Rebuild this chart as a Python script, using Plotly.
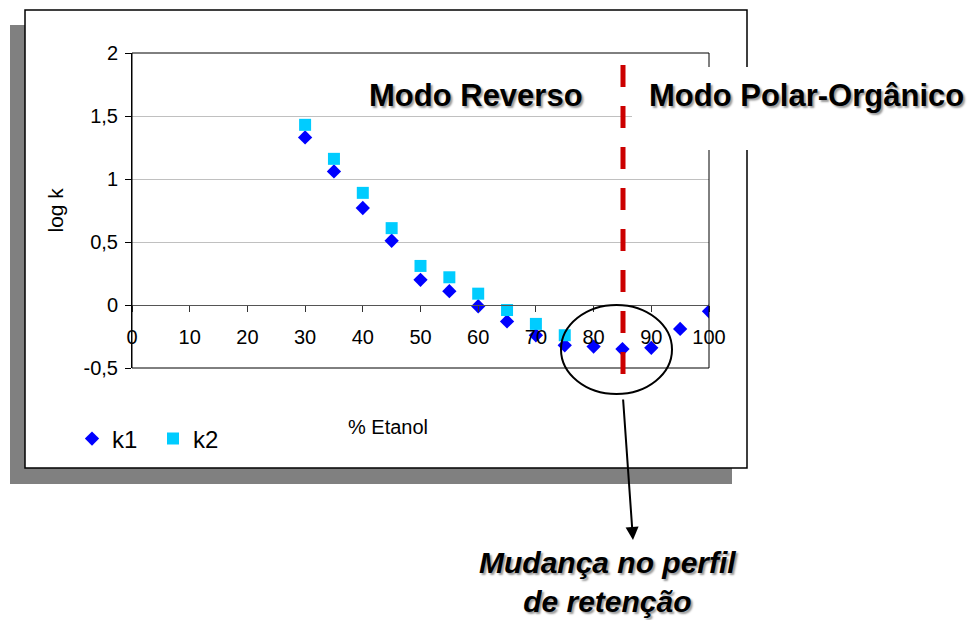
import plotly.graph_objects as go

# ---------------- data ----------------
etanol_k1 = [30, 35, 40, 45, 50, 55, 60, 65, 70, 75, 80, 85, 90, 95, 100]
logk_k1 = [1.33, 1.06, 0.77, 0.51, 0.20, 0.11, -0.01, -0.13, -0.24, -0.32, -0.33, -0.35, -0.34, -0.19, -0.05]
etanol_k2 = [30, 35, 40, 45, 50, 55, 60, 65, 70, 75]
logk_k2 = [1.43, 1.16, 0.89, 0.61, 0.31, 0.22, 0.09, -0.04, -0.15, -0.24]

y_tickvals = [-0.5, 0, 0.5, 1, 1.5, 2]
y_ticktext = ["-0,5", "0", "0,5", "1", "1,5", "2"]
x_tickvals = [0, 10, 20, 30, 40, 50, 60, 70, 80, 90, 100]
x_ticktext = ["0", "10", "20", "30", "40", "50", "60", "70", "80", "90", "100"]

# ---------------- layout geometry ----------------
W, H = 969, 620
L, R, T, B = 132, 709, 53, 368  # plot area in pixels
FONT = "Arial, 'Liberation Sans', sans-serif"


def px(x):
    return (x - L) / (R - L)


def py(y):
    return (B - y) / (B - T)


fig = go.Figure()
fig.add_trace(go.Scatter(
    x=etanol_k1, y=logk_k1, mode="markers", name="k1",
    marker=dict(symbol="diamond", size=11, color="#0000FF", line=dict(width=0)),
))
fig.add_trace(go.Scatter(
    x=etanol_k2, y=logk_k2, mode="markers", name="k2",
    marker=dict(symbol="square", size=12, color="#00CCFF", line=dict(width=0)),
))

shapes = [
    # shadow of the chart box
    dict(type="rect", xref="paper", yref="paper", layer="below",
         x0=px(10), x1=px(732), y0=py(484), y1=py(25),
         fillcolor="#808080", line=dict(width=0)),
    # chart box
    dict(type="rect", xref="paper", yref="paper", layer="below",
         x0=px(25), x1=px(747), y0=py(468), y1=py(10),
         fillcolor="white", line=dict(color="black", width=1.5)),
    # plot area border
    dict(type="rect", xref="paper", yref="paper", layer="above",
         x0=0, x1=1, y0=0, y1=1, line=dict(color="black", width=1)),
    # red dashed divider
    dict(type="line", xref="paper", yref="paper", layer="above",
         x0=px(623), x1=px(623), y0=py(65), y1=py(378),
         line=dict(color="#CC0000", width=5, dash="22px,19px")),
    # white box behind second title
    dict(type="rect", xref="paper", yref="paper", layer="above",
         x0=px(632), x1=px(975), y0=py(150), y1=py(67),
         fillcolor="white", line=dict(width=0)),
    # ellipse
    dict(type="circle", xref="paper", yref="paper", layer="above",
         x0=px(561), x1=px(672), y0=py(394), y1=py(305),
         line=dict(color="black", width=2)),
]

shadow = "2px 2px 2px #999999"
annotations = [
    dict(text="Modo Reverso", xref="paper", yref="paper", x=px(476), y=py(95),
         showarrow=False, xanchor="center", yanchor="middle",
         font=dict(family=FONT, size=31, color="black", weight="bold", shadow=shadow)),
    dict(text="Modo Polar-Orgânico", xref="paper", yref="paper", x=px(806), y=py(96),
         showarrow=False, xanchor="center", yanchor="middle",
         font=dict(family=FONT, size=31, color="black", weight="bold", shadow=shadow)),
    dict(text="Mudança no perfil<br>de retenção", xref="paper", yref="paper",
         x=px(607), y=py(582), showarrow=False, xanchor="center", yanchor="middle",
         font=dict(family=FONT, size=30, color="black", weight="bold", style="italic",
                   shadow=shadow)),
    dict(text="log k", xref="paper", yref="paper", x=px(55), y=0.5, textangle=-90,
         showarrow=False, xanchor="center", yanchor="middle",
         font=dict(family=FONT, size=21, color="black")),
    dict(text="% Etanol", xref="paper", yref="paper", x=px(388), y=py(427),
         showarrow=False, xanchor="center", yanchor="middle",
         font=dict(family=FONT, size=20, color="black")),
    # arrow
    dict(text="", xref="paper", yref="paper", x=px(633), y=py(540),
         ax=-10, ay=-142, showarrow=True, arrowhead=2, arrowsize=1.3,
         arrowwidth=2, arrowcolor="black"),
]

fig.update_layout(
    width=W, height=H,
    margin=dict(l=L, r=W - R, t=T, b=H - B, pad=0),
    paper_bgcolor="white",
    plot_bgcolor="rgba(0,0,0,0)",
    font=dict(family=FONT, size=20, color="black"),
    showlegend=True,
    legend=dict(orientation="h", x=px(72), y=py(439), xanchor="left", yanchor="middle",
                font=dict(family=FONT, size=24, color="black"),
                entrywidth=36, entrywidthmode="pixels",
                bgcolor="rgba(0,0,0,0)", borderwidth=0, tracegroupgap=0),
    xaxis=dict(range=[0, 100], anchor="free", position=0.2,
               tickvals=x_tickvals, ticktext=x_ticktext,
               showgrid=False, zeroline=False, showline=True, linecolor="#555555",
               linewidth=1, ticks="outside", ticklen=6, tickcolor="#333333",
               ticklabelstandoff=8,
               tickfont=dict(family=FONT, size=20, color="black")),
    yaxis=dict(range=[-0.5, 2], tickvals=y_tickvals, ticktext=y_ticktext,
               showgrid=True, gridcolor="#C0C0C0", gridwidth=1, zeroline=False,
               showline=True, linecolor="black", linewidth=1,
               ticks="outside", ticklen=6, tickcolor="black",
               ticklabelstandoff=3,
               tickfont=dict(family=FONT, size=20, color="black")),
    shapes=shapes,
    annotations=annotations,
)

fig.write_html("out.html", config={"displayModeBar": False},
               post_script="document.body.style.margin='0';document.body.style.padding='0';")
